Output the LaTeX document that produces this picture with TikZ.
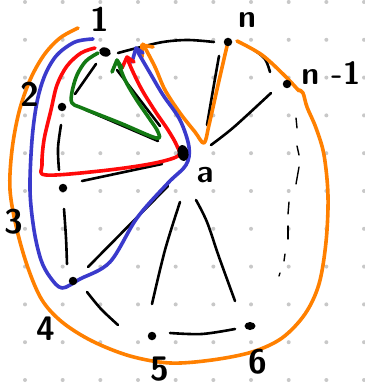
\documentclass[tikz,border=0pt]{standalone}
\usetikzlibrary{shapes.geometric}
\definecolor{gridgray}{HTML}{C8C8C8}
\definecolor{cOr}{HTML}{FF8000}
\definecolor{cBl}{HTML}{3A3ACC}
\definecolor{cRd}{HTML}{FF0A0A}
\definecolor{cGr}{HTML}{137A13}
\tikzset{
  blk/.style={line width=2.6pt, black},
  dsh/.style={line width=1.4pt, black},
  colline/.style={line width=3.6pt},
  vdot/.style={circle, fill=black, inner sep=0pt, minimum size=8.5pt},
  lbl/.style={font=\sffamily\bfseries\fontsize{34}{34}\selectfont, inner sep=0pt},
  lbls/.style={font=\sffamily\bfseries\fontsize{32}{32}\selectfont, inner sep=0pt},
  sm/.style={smooth, tension=0.55}
}
\begin{document}
\begin{tikzpicture}[x=1pt,y=-1pt, line cap=round, line join=round]
\useasboundingbox (0,0) rectangle (364,387);
\fill[white] (0,0) rectangle (364,387);
% grid dots
\foreach \i in {0,...,9} \foreach \j in {0,...,10}
  \fill[gridgray] ({25+37.67*\i},{2+37.8*\j}) circle (2pt);

% black cycle edges
\draw[blk] plot[sm] coordinates {(118,53) (137,48) (163,42) (188,40) (214,42)};
\draw[blk] (96,64) -- (75,94);
\draw[blk] plot[sm] coordinates {(61,125) (58,148) (59,170)};
\draw[blk] plot[sm] coordinates {(64,209) (66,238) (67,264)};
\draw[blk] plot[sm] coordinates {(87,292) (101,309) (118,325)};
\draw[blk] plot[sm] coordinates {(170,333) (202,334) (235,329)};
\draw[blk] plot[sm] coordinates {(254,50) (265,59) (270,72)};
% dashed edge 6 -- n-1
\draw[dsh] (296,118) -- (297,128);
\draw[dsh] (297,146) -- (299,155);
\draw[dsh] (299,167) -- (296,184);
\draw[dsh] (289,202) -- (288,214);
\draw[dsh] (288,226) -- (288,239);
\draw[dsh] (285,254) -- (284,261);
\draw[dsh] (280,273) -- (279,276);

% spokes from a
\draw[blk] (117,70) -- (160,126);
\draw[blk] (86,110) -- (158,141);
\draw[blk] (82,181) -- (162,164);
\draw[blk] (88,267) -- (168,186);
\draw[blk] plot[sm] coordinates {(180,202) (165,250) (152,304)};
\draw[blk] plot[sm] coordinates {(196,200) (207,222) (219,257) (235,301)};
\draw[blk] plot[sm] coordinates {(219,56) (213,90) (207,125)};
\draw[blk] plot[sm] coordinates {(211,145) (234,127) (271,93)};

% orange path
\draw[colline, cOr] plot[sm] coordinates {(78,28) (60,38) (44,55) (30,80) (19,112) (12,150) (10,190) (17,230) (28,268) (42,300) (62,322) (92,341) (130,356) (170,363) (212,360) (252,352) (282,338) (305,314) (319,284) (326,242) (328,196) (324,155) (316,128) (307,107) (303,93) (299,90)};
\draw[colline, cOr] plot[sm] coordinates {(299,91) (285,76) (262,55) (237,41)};
\draw[colline, cOr] plot[sm] coordinates {(227,46) (218,85) (209,125) (204,143) (195,132) (180,113) (165,90) (155,67) (143,44)};
\draw[colline, cOr] (142,57) -- (142,45) -- (153,47);

% blue path
\draw[colline, cBl] plot[sm] coordinates {(93,39) (75,42) (57,55) (45,75) (37,102) (32,140) (30,190) (34,230) (41,260) (50,277) (62,288) (80,279) (110,262) (137,218) (168,183) (186,165) (189,147) (180,120) (163,95) (150,73) (136,49)};
\draw[colline, cBl] (132,62) -- (136,48) -- (143,53);

% red path
\draw[colline, cRd] plot[sm] coordinates {(95,48) (81,53) (67,66) (57,85) (51,110) (44,140) (42,165) (46,175) (100,171) (150,164) (178,156) (177,146) (168,130) (155,111) (142,90) (133,72) (127,58)};
\draw[colline, cRd] (122,68) -- (127,57) -- (134,62);

% green path
\draw[colline, cGr] plot[sm] coordinates {(98,53) (86,61) (77,75) (72,92) (72,103) (82,108) (120,123) (156,138) (158,132) (149,118) (136,99) (125,80) (118,62)};
\draw[colline, cGr] (112,72) -- (117,60) -- (122,68);

% vertices
\node[vdot, ellipse, minimum width=12pt, minimum height=9pt, rotate=-20] (v1) at (105,52) {};
\node[vdot] (v2) at (62,107) {};
\node[vdot] (v3) at (63,188) {};
\node[vdot] (v4) at (73,281) {};
\node[vdot] (v5) at (152,336) {};
\node[vdot, ellipse, minimum width=11pt, minimum height=8pt] (v6) at (250,326) {};
\node[vdot] (vn) at (228,42) {};
\node[vdot] (vn1) at (287,84) {};
\node[ellipse, fill=black, inner sep=0pt, minimum width=11pt, minimum height=16pt, rotate=10] (va) at (183,153) {};

% labels
\node[lbl] (l1) at (100,19) {1};
\node[lbl] (l2) at (30,94) {2};
\node[lbl] (l3) at (14,222) {3};
\node[lbl] (l4) at (46,329) {4};
\node[lbl] (l5) at (160,369) {5};
\node[lbl] (l6) at (258,362) {6};
\node[lbls] (ln) at (247,20) {n};
\node[lbls] (ln1) at (331,73) {n -1};
\node[lbls] (la) at (205,175) {a};
\end{tikzpicture}
\end{document}
